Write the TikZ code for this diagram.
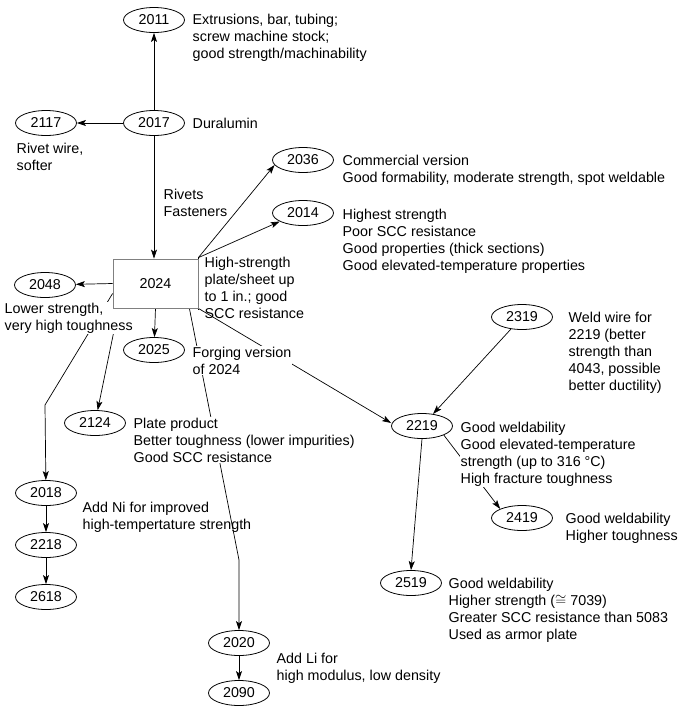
\documentclass[tikz,border=0pt]{standalone}
\usepackage{fontspec}
\setmainfont{Liberation Sans}
\usetikzlibrary{shapes.geometric,arrows.meta}
\pgfdeclarelayer{bg}
\pgfsetlayers{bg,main}
\begin{document}
\begin{tikzpicture}[x=1pt,y=-1pt,
  every node/.style={font=\fontsize{14.3}{17}\selectfont},
  alloy/.style={ellipse,draw,fill=white,line width=0.8pt,minimum width=61pt,minimum height=25pt,inner sep=0pt},
  mainbox/.style={draw=gray,line width=0.8pt,minimum width=85pt,minimum height=49pt,inner sep=0pt},
  lbl/.style={anchor=north west,align=left,inner sep=0.5pt},
  wlbl/.style={lbl,fill=white},
  conn/.style={line width=0.7pt},
  arr/.style={conn,-{Stealth[length=9pt,width=6pt,inset=2pt]}}]
\useasboundingbox (0,0) rectangle (683,710);
% labels
\node[lbl] (t2011) at (192,13) {Extrusions, bar, tubing;\\screw machine stock;\\good strength/machinability};
\node[lbl] (t2017) at (192,117) {Duralumin};
\node[lbl] (t2117) at (16,142) {Rivet wire,\\softer};
\node[lbl] (triv) at (163,188) {Rivets\\Fasteners};
\node[lbl] (t2036) at (342,154) {Commercial version\\Good formability, moderate strength, spot weldable};
\node[lbl] (t2014) at (342,208) {Highest strength\\Poor SCC resistance\\Good properties (thick sections)\\Good elevated-temperature properties};
\node[lbl] (t2024) at (204,256) {High-strength\\plate/sheet up\\to 1 in.; good\\SCC resistance};
\node[wlbl] (t2048) at (4,302) {Lower strength,\\very high toughness};
\node[wlbl] (t2025) at (192,346) {Forging version\\of 2024};
\node[wlbl] (t2124) at (133,417) {Plate product\\Better toughness (lower impurities)\\Good SCC resistance};
\node[lbl] (t2319) at (568,311) {Weld wire for\\2219 (better\\strength than\\4043, possible\\better ductility)};
\node[wlbl] (t2219) at (460,421) {Good weldability\\Good elevated-temperature\\strength (up to 316 °C)\\High fracture toughness};
\node[lbl] (t2419) at (565,512) {Good weldability\\Higher toughness};
\node[lbl] (t2519) at (448,577) {Good weldability\\Higher strength ($\cong$ 7039)\\Greater SCC resistance than 5083\\Used as armor plate};
\node[lbl] (t2018) at (82,501) {Add Ni for improved\\high-tempertature strength};
\node[lbl] (t2020) at (276,652) {Add Li for\\high modulus, low density};
% alloy nodes
\node[alloy] (e2011) at (154,20) {2011};
\node[alloy] (e2017) at (154,123) {2017};
\node[alloy] (e2117) at (46,123) {2117};
\node[alloy] (e2036) at (303,160) {2036};
\node[alloy] (e2014) at (303,213) {2014};
\node[mainbox] (r2024) at (155.5,283.5) {2024};
\node[alloy] (e2048) at (45,285) {2048};
\node[alloy] (e2025) at (154,350) {2025};
\node[alloy] (e2124) at (95,423) {2124};
\node[alloy] (e2319) at (522,317) {2319};
\node[alloy] (e2219) at (422,426) {2219};
\node[alloy] (e2419) at (522,518) {2419};
\node[alloy] (e2018) at (46,493) {2018};
\node[alloy] (e2218) at (46,545) {2218};
\node[alloy] (e2618) at (46,597) {2618};
\node[alloy] (e2519) at (411,583) {2519};
\node[alloy] (e2020) at (239,643) {2020};
\node[alloy] (e2090) at (239,693) {2090};
% bends
\coordinate (b2018) at (45,405);
\coordinate (b2020) at (239,560);
% connectors
\begin{pgfonlayer}{bg}
\draw[arr] (e2017) -- (e2011);
\draw[arr] (e2017) -- (e2117);
\draw[arr] (e2017.south) -- (e2017.south |- r2024.north);
\draw[conn] ([yshift=2pt]r2024.north east) -- ([yshift=-2pt]r2024.south east);
\draw[arr] ([yshift=1pt]r2024.north east) -- (e2036.190);
\draw[arr] ([yshift=1pt]r2024.north east) -- (e2014.200);
\draw[arr] (r2024.west) -- (e2048);
\draw[arr] (r2024.south) -- (e2025);
\draw[arr] ([xshift=6pt]r2024.south west) -- (e2124);
\draw[arr] ([yshift=-10pt]r2024.west) -- (b2018) -- (e2018);
\draw[arr] ([xshift=-9pt]r2024.south east) -- (b2020) -- (e2020);
\draw[arr] (r2024.south east) -- ([yshift=3pt]e2219.west);
\draw[arr] (e2319) -- (e2219);
\draw[arr] (e2219.south east) -- (e2419.north west);
\draw[arr] (e2219.south) -- (e2519.north);
\draw[arr] (e2018) -- (e2218);
\draw[arr] (e2218) -- (e2618);
\draw[arr] (e2020) -- (e2090);
\end{pgfonlayer}
\end{tikzpicture}
\end{document}
